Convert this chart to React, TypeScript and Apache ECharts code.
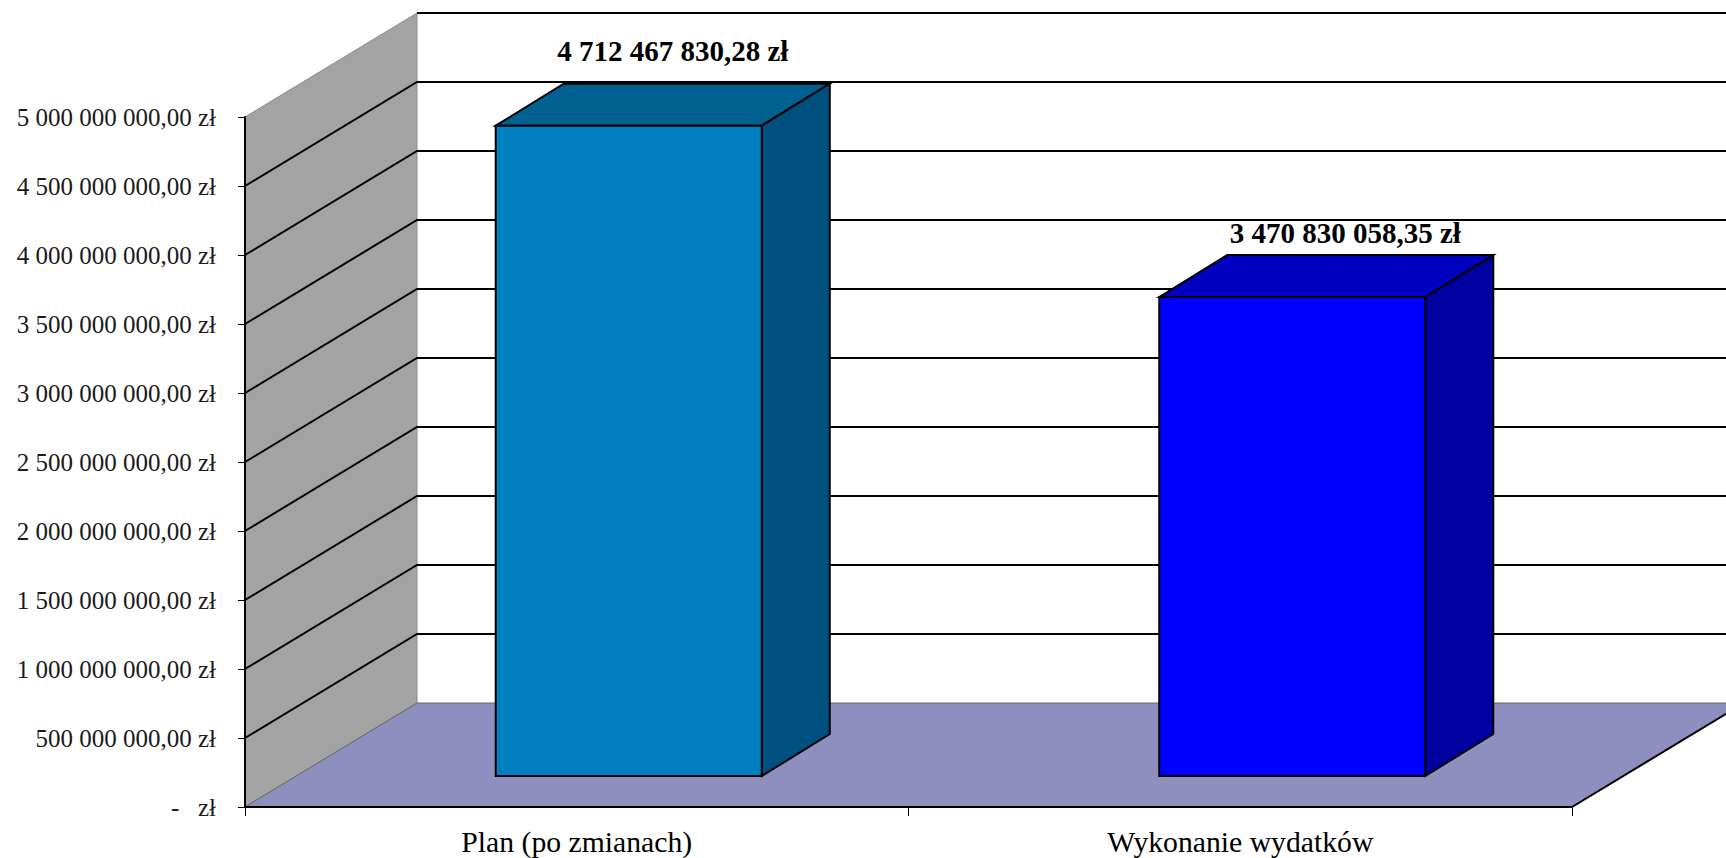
import React, { useEffect, useRef } from "react";
import * as echarts from "echarts";

const categories = ["Plan (po zmianach)", "Wykonanie wydatków"];
const values = [4712467830.28, 3470830058.35];
const valueLabels = ["4 712 467 830,28 zł", "3 470 830 058,35 zł"];
const yTicks = [500000000, 1000000000, 1500000000, 2000000000, 2500000000, 3000000000, 3500000000, 4000000000, 4500000000, 5000000000];
const frontColors = ["#0080C0", "#0000FF"];
const topColors = ["#006090", "#0000C0"];
const sideColors = ["#00507F", "#0000A0"];
const labelShift = [[10, -33], [19, -22]];

const FONT = '"Liberation Serif", serif';
const Y_MAX = 5000000000;
const WALL_DX = 172;
const WALL_DY = 104;
const BAR_DX = 52;
const BAR_DY = 31;
const DEPTH_DX = 68;
const DEPTH_DY = 42;
const BAR_RATIO = 0.401;

function formatTick(v: number): string {
  if (v === 0) return "-\u00a0\u00a0\u00a0zł";
  const s = String(Math.round(v)).replace(/\B(?=(\d{3})+$)/g, " ");
  return s + ",00 zł";
}

export default function App() {
  const ref = useRef<HTMLDivElement>(null);
  useEffect(() => {
    const chart = echarts.init(ref.current!, undefined, { renderer: "svg" });
    const option: any = {
      animation: false,
      backgroundColor: "#fff",
      grid: { left: 245, top: 117, width: 1327, height: 690 },
      xAxis: {
        type: "category",
        data: categories,
        z: 10,
        axisLine: { show: true, lineStyle: { color: "#000", width: 2 } },
        axisTick: { show: true, alignWithLabel: false, length: 9, lineStyle: { color: "#000", width: 1 } },
        axisLabel: { color: "#000", fontFamily: FONT, fontSize: 29.7, margin: 20, interval: 0 },
        splitLine: { show: false },
      },
      yAxis: {
        type: "value",
        min: 0,
        max: Y_MAX,
        interval: 500000000,
        z: 10,
        axisLine: { show: true, lineStyle: { color: "#000", width: 2 } },
        axisTick: { show: true, length: 7, lineStyle: { color: "#000", width: 1 } },
        axisLabel: { color: "#1a1a1a", fontFamily: FONT, fontSize: 25, margin: 29, formatter: formatTick },
        splitLine: { show: false },
      },
      series: [
        {
          type: "custom",
          name: "frame",
          z: 1,
          silent: true,
          data: [[0, 0]],
          encode: { x: 0, y: 1 },
          renderItem: (params: any, api: any) => {
            const c = params.coordSys;
            const x0 = c.x, x1 = c.x + c.width, y0 = c.y + c.height, yTop = c.y;
            return {
              type: "group",
              children: [
                {
                  type: "polygon",
                  shape: { points: [[x0, y0], [x0 + WALL_DX, y0 - WALL_DY], [x0 + WALL_DX, yTop - WALL_DY], [x0, yTop]] },
                  style: { fill: "#A3A3A3", stroke: "#8c8c8c", lineWidth: 1 },
                },
                {
                  type: "polygon",
                  shape: { points: [[x0, y0], [x0 + WALL_DX, y0 - WALL_DY], [x1 + WALL_DX, y0 - WALL_DY], [x1, y0]] },
                  style: { fill: "#8F8FBF", stroke: "#666", lineWidth: 1 },
                },
                {
                  type: "line",
                  shape: { x1: x1, y1: y0, x2: x1 + WALL_DX, y2: y0 - WALL_DY },
                  style: { stroke: "#000", lineWidth: 2 },
                },
              ],
            };
          },
        },
        {
          type: "custom",
          name: "gridlines",
          z: 2,
          silent: true,
          data: yTicks.map((v) => [0, v]),
          encode: { x: 0, y: 1 },
          renderItem: (params: any, api: any) => {
            const c = params.coordSys;
            const v = api.value(1);
            const y = api.coord([0, v])[1];
            const bx = c.x + WALL_DX, by = y - WALL_DY;
            const end = [c.x + c.width + WALL_DX, by];
            const points = v === Y_MAX ? [[bx, by], end] : [[c.x, y], [bx, by], end];
            return {
              type: "polyline",
              shape: { points },
              style: { fill: "none", stroke: "#000", lineWidth: 2 },
            };
          },
        },
        {
          type: "custom",
          name: "bars",
          z: 3,
          silent: true,
          data: values.map((v, i) => [i, v]),
          encode: { x: 0, y: 1 },
          renderItem: (params: any, api: any) => {
            const i = params.dataIndex;
            const idx = api.value(0);
            const top = api.coord([idx, api.value(1)]);
            const base = api.coord([idx, 0]);
            const w = api.size([1, 0])[0] * BAR_RATIO;
            const l = top[0] + BAR_DX - w / 2;
            const r = l + w;
            const t = top[1] - BAR_DY;
            const b = base[1] - BAR_DY;
            const stroke = { stroke: "#000", lineWidth: 2, lineJoin: "miter" };
            return {
              type: "group",
              children: [
                { type: "polygon", shape: { points: [[l, t], [l + DEPTH_DX, t - DEPTH_DY], [r + DEPTH_DX, t - DEPTH_DY], [r, t]] }, style: { fill: topColors[i], ...stroke } },
                { type: "polygon", shape: { points: [[r, t], [r + DEPTH_DX, t - DEPTH_DY], [r + DEPTH_DX, b - DEPTH_DY], [r, b]] }, style: { fill: sideColors[i], ...stroke } },
                { type: "rect", shape: { x: l, y: t, width: w, height: b - t }, style: { fill: frontColors[i], ...stroke } },
                {
                  type: "text",
                  style: {
                    x: (l + r + DEPTH_DX) / 2 + labelShift[i][0],
                    y: t - DEPTH_DY + labelShift[i][1],
                    text: valueLabels[i],
                    fill: "#000",
                    font: `bold 29px ${FONT}`,
                    align: "center",
                    verticalAlign: "middle",
                  },
                },
              ],
            };
          },
        },
      ],
    };
    chart.setOption(option);
    return () => chart.dispose();
  }, []);
  return <div ref={ref} style={{ position: "absolute", left: 0, top: 0, width: 1726, height: 858 }} />;
}
